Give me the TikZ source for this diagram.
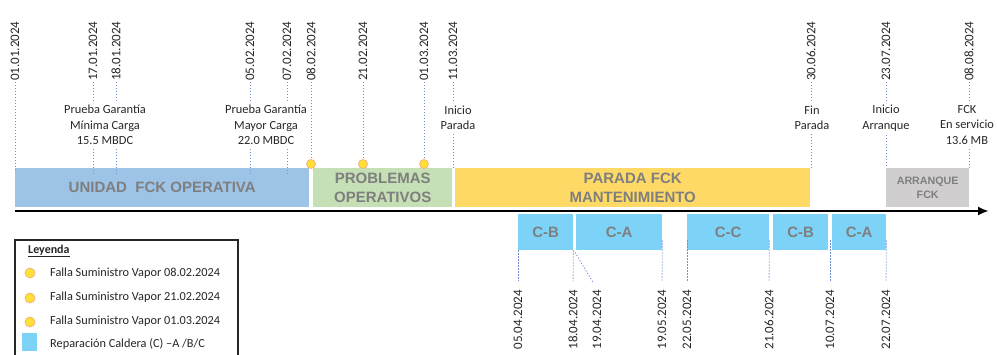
\documentclass[tikz,border=0pt]{standalone}
\usepackage{fontspec}
\setmainfont{Carlito}
\newfontfamily\barfont{Liberation Sans}
\usetikzlibrary{arrows.meta,calc}
\definecolor{opblue}{HTML}{9DC3E6}
\definecolor{opgreen}{HTML}{C5E0B4}
\definecolor{opyellow}{HTML}{FFD966}
\definecolor{opgray}{HTML}{D0CECE}
\definecolor{cblue}{HTML}{7DD3F7}
\definecolor{txtgray}{HTML}{7F7F7F}
\definecolor{dotblue}{HTML}{6F8FD0}
\definecolor{failyellow}{HTML}{FFE135}
\definecolor{failorange}{HTML}{F4B183}
\begin{document}
\begin{tikzpicture}[x=1pt,y=-1pt,
  datelbl/.style={rotate=90,font=\fontsize{13}{13}\selectfont,inner sep=1pt,text=black!85},
  evlbl/.style={font=\fontsize{12.4}{15.5}\selectfont,align=center,inner sep=1pt,text=black!85},
  barbox/.style={draw=none,inner sep=0pt,anchor=north west,text=txtgray,align=center,
    font=\barfont\bfseries\fontsize{15}{19.5}\selectfont,minimum height=39pt},
  cbox/.style={draw=none,fill=cblue,inner sep=0pt,anchor=north west,text=txtgray,
    font=\barfont\bfseries\fontsize{15}{18}\selectfont,minimum height=36pt},
  dotline/.style={dotblue,line width=0.8pt,dash pattern=on 1.2pt off 1.8pt},
  fail/.style={circle,fill=failyellow,draw=failorange,line width=0.8pt,minimum size=9pt,inner sep=0pt},
  legtxt/.style={font=\fontsize{12.3}{14}\selectfont,anchor=west,inner sep=0pt,text=black!85},
]
\useasboundingbox (0,0) rectangle (997,354);

% ---------- bars ----------
\node[barbox,fill=opblue,minimum width=294pt] (bop) at (15,168) {UNIDAD\ \ FCK OPERATIVA};
\node[barbox,fill=opgreen,minimum width=139pt] (bpr) at (313,168) {PROBLEMAS\\OPERATIVOS};
\node[barbox,fill=opyellow,minimum width=355pt] (bpa) at (455,168) {PARADA FCK\\MANTENIMIENTO};
\node[barbox,fill=opgray,minimum width=83pt,font=\barfont\bfseries\fontsize{10.7}{14}\selectfont] (bar) at (886,168) {ARRANQUE\\FCK};

% ---------- axis ----------
\coordinate (axs) at (15,211);
\coordinate (axe) at (989,211);
\draw[line width=2.4pt,-{Latex[length=11pt,width=9pt]}] (axs) -- (axe);

% ---------- boiler repair boxes ----------
\node[cbox,minimum width=55pt] (cb1) at (518,214) {C-B};
\node[cbox,minimum width=86pt] (ca1) at (576,214) {C-A};
\node[cbox,minimum width=82pt] (cc) at (687,214) {C-C};
\node[cbox,minimum width=55pt] (cb2) at (773,214) {C-B};
\node[cbox,minimum width=54pt] (ca2) at (832,214) {C-A};

% ---------- top dates ----------
\node[datelbl,anchor=west] (d0101) at (15,82) {01.01.2024};
\node[datelbl,anchor=west] (d1701) at (93,82) {17.01.2024};
\node[datelbl,anchor=west] (d1801) at (116,82) {18.01.2024};
\node[datelbl,anchor=west] (d0502) at (250,82) {05.02.2024};
\node[datelbl,anchor=west] (d0702) at (287,82) {07.02.2024};
\node[datelbl,anchor=west] (d0802) at (311,82) {08.02.2024};
\node[datelbl,anchor=west] (d2102) at (363,82) {21.02.2024};
\node[datelbl,anchor=west] (d0103) at (424,82) {01.03.2024};
\node[datelbl,anchor=west] (d1103) at (453,82) {11.03.2024};
\node[datelbl,anchor=west] (d3006) at (811,82) {30.06.2024};
\node[datelbl,anchor=west] (d2307) at (886,82) {23.07.2024};
\node[datelbl,anchor=west] (d0808) at (969,82) {08.08.2024};

% ---------- event labels ----------
\node[evlbl] (lmin) at (105,125) {Prueba Garantía\\Mínima Carga\\15.5 MBDC};
\node[evlbl] (lmay) at (266,125) {Prueba Garantía\\Mayor Carga\\22.0 MBDC};
\node[evlbl] (lini) at (458,118) {Inicio\\Parada};
\node[evlbl] (lfin) at (812,118) {Fin\\Parada};
\node[evlbl] (larr) at (886,118) {Inicio\\Arranque};
\node[evlbl] (lfck) at (967,125) {FCK\\En servicio\\13.6 MB};

% ---------- failure markers ----------
\node[fail] (f1) at (311,164) {};
\node[fail] (f2) at (363,164) {};
\node[fail] (f3) at (424,164) {};

% ---------- top dotted connectors ----------
\draw[dotline] (d0101.west) -- ($(d0101.west |- bop.north)+(0,2)$);
\foreach \d/\l in {d1701/lmin,d1801/lmin,d0502/lmay,d0702/lmay}{
  \draw[dotline] (\d.west) -- ($(\d.west |- \l.north)+(0,-3)$);
  \draw[dotline] ($(\l.south -| \d.west)+(0,3)$) -- ($(\d.west |- bop.north)+(0,7)$);
}
\draw[dotline] (d0802.west) -- (f1.north);
\draw[dotline] (d2102.west) -- (f2.north);
\draw[dotline] (d0103.west) -- (f3.north);
\foreach \d/\l/\b in {d1103/lini/bpa,d3006/lfin/bpa,d2307/larr/bar,d0808/lfck/bar}{
  \draw[dotline] (\d.west) -- ($(\d.west |- \l.north)+(0,-3)$);
  \draw[dotline] ($(\l.south -| \d.west)+(0,3)$) -- (\d.west |- \b.north);
}

% ---------- bottom dates ----------
\node[datelbl,anchor=east] (e0504) at (518,289) {05.04.2024};
\node[datelbl,anchor=east] (e1804) at (573,289) {18.04.2024};
\node[datelbl,anchor=east] (e1904) at (597,289) {19.04.2024};
\node[datelbl,anchor=east] (e1905) at (662,289) {19.05.2024};
\node[datelbl,anchor=east] (e2205) at (687,289) {22.05.2024};
\node[datelbl,anchor=east] (e2106) at (769,289) {21.06.2024};
\node[datelbl,anchor=east] (e1007) at (830,289) {10.07.2024};
\node[datelbl,anchor=east] (e2207) at (886,289) {22.07.2024};

% ---------- bottom dotted connectors ----------
\draw[dotline,shorten >=8pt] (cb1.south west) -- (e0504.east);
\draw[dotline,shorten >=8pt] (cb1.south east) -- (e1804.east);
\draw[dotline,shorten >=8pt] ($(ca1.south west)+(-1,2)$) -- (e1904.east);
\draw[dotline,shorten >=8pt] ($(ca1.south east)+(0,-10)$) -- (e1905.east);
\draw[dotline,shorten >=8pt] ($(cc.south west)+(0,-10)$) -- (e2205.east);
\draw[dotline,shorten >=8pt] ($(cc.south east)+(0,-10)$) -- (e2106.east);
\draw[dotline,shorten >=8pt] ($(ca2.south west)+(-2,-10)$) -- (e1007.east);
\draw[dotline,shorten >=8pt] ($(ca2.south east)+(0,-10)$) -- (e2207.east);

% ---------- legend ----------
\draw[line width=1.3pt,black!85] (15,356) -- (15,240) -- (238,240) -- (238,356);
\node[font=\bfseries\fontsize{12}{14}\selectfont,anchor=west,inner sep=0pt,text=black!85] (lt) at (28,251) {\underline{Leyenda}};
\node[fail,minimum size=10pt] (lg1) at (30,273) {};
\node[fail,minimum size=10pt] (lg2) at (30,298) {};
\node[fail,minimum size=10pt] (lg3) at (30,322) {};
\node[fill=cblue,minimum width=15pt,minimum height=18pt,inner sep=0pt] (lg4) at (29.5,342) {};
\node[legtxt] (lt1) at (50,273) {Falla Suministro Vapor 08.02.2024};
\node[legtxt] (lt2) at (50,297) {Falla Suministro Vapor 21.02.2024};
\node[legtxt] (lt3) at (50,321) {Falla Suministro Vapor 01.03.2024};
\node[legtxt] (lt4) at (50,344) {Reparación Caldera (C) –A /B/C};
\end{tikzpicture}
\end{document}
